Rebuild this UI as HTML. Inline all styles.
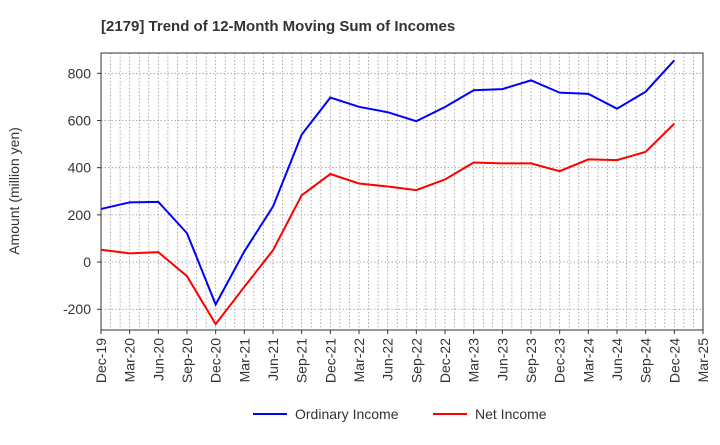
<!DOCTYPE html>
<html><head><meta charset="utf-8"><style>
body{margin:0;background:#fff;font-family:"Liberation Sans",sans-serif;}
</style></head><body>
<svg width="720" height="440" xmlns="http://www.w3.org/2000/svg">
<text x="101" y="31" font-size="15" font-weight="bold" fill="#333">[2179]  Trend of 12-Month Moving Sum of Incomes</text>
<g id="grid"></g>
<g id="axes"></g>
<g id="series"></g>
<text transform="translate(19,191) rotate(-90)" text-anchor="middle" font-size="14" fill="#333">Amount (million yen)</text>
<g>
<line x1="253" y1="414" x2="287" y2="414" stroke="#0000ff" stroke-width="2"/>
<text x="295" y="419" font-size="14" fill="#333">Ordinary Income</text>
<line x1="433" y1="414" x2="467" y2="414" stroke="#ff0000" stroke-width="2"/>
<text x="475" y="419" font-size="14" fill="#333">Net Income</text>
</g>
</svg>
<script>
const categories=["Dec-19","Mar-20","Jun-20","Sep-20","Dec-20","Mar-21","Jun-21","Sep-21","Dec-21","Mar-22","Jun-22","Sep-22","Dec-22","Mar-23","Jun-23","Sep-23","Dec-23","Mar-24","Jun-24","Sep-24","Dec-24","Mar-25"];
const ordinaryIncome=[225,253,255,122,-180,45,235,540,697,658,635,597,657,728,733,770,718,713,650,722,855];
const netIncome=[52,37,42,-60,-263,-105,50,283,373,333,320,305,350,422,418,418,385,435,432,467,587];
const yTicks=[-200,0,200,400,600,800];
const L=101,R=703,T=53,B=330,yMin=-288,yMax=886;
const ns="http://www.w3.org/2000/svg";
function x(i){return L+(R-L)*i/(categories.length-1);}
function y(v){return B-(v-yMin)/(yMax-yMin)*(B-T);}
function mk(t,a,p){const e=document.createElementNS(ns,t);for(const k in a)e.setAttribute(k,a[k]);p.appendChild(e);return e;}
const g=document.getElementById('grid'),ax=document.getElementById('axes'),s=document.getElementById('series');
const nm=(categories.length-1)*3;
for(let m=1;m<nm;m++){const xx=L+(R-L)*m/nm;const l=mk('line',{x1:xx,x2:xx,y1:T,y2:B,stroke:'#999','stroke-width':0.8,'stroke-dasharray':'1.5,2'},g);

}
yTicks.forEach(v=>{const l=mk('line',{x1:L,x2:R,y1:y(v),y2:y(v),stroke:'#999','stroke-width':0.8,'stroke-dasharray':'1.5,2'},g);


const t=mk('text',{x:L-10,y:y(v)+5,'text-anchor':'end','font-size':14,fill:'#333'},ax);t.textContent=v;


const tk=mk('line',{x1:L-4,x2:L,y1:y(v),y2:y(v),stroke:'#333'},ax);

});
const fr=mk('rect',{x:L,y:T,width:R-L,height:B-T,fill:'none',stroke:'#333','stroke-width':1},ax);


categories.forEach((c,i)=>{const tk=mk('line',{x1:x(i),x2:x(i),y1:B,y2:B+4,stroke:'#333'},ax);


const t=mk('text',{transform:`translate(${x(i)+5},${B+8}) rotate(-90)`,'text-anchor':'end','font-size':14,fill:'#333'},ax);t.textContent=c;

});
function line(d,col,name){const p=mk('polyline',{points:d.map((v,i)=>x(i)+','+y(v)).join(' '),fill:'none',stroke:col,'stroke-width':2},s);

}
line(ordinaryIncome,'#0000ff','ordinary-income-line');
line(netIncome,'#ff0000','net-income-line');
</script>
</body></html>
